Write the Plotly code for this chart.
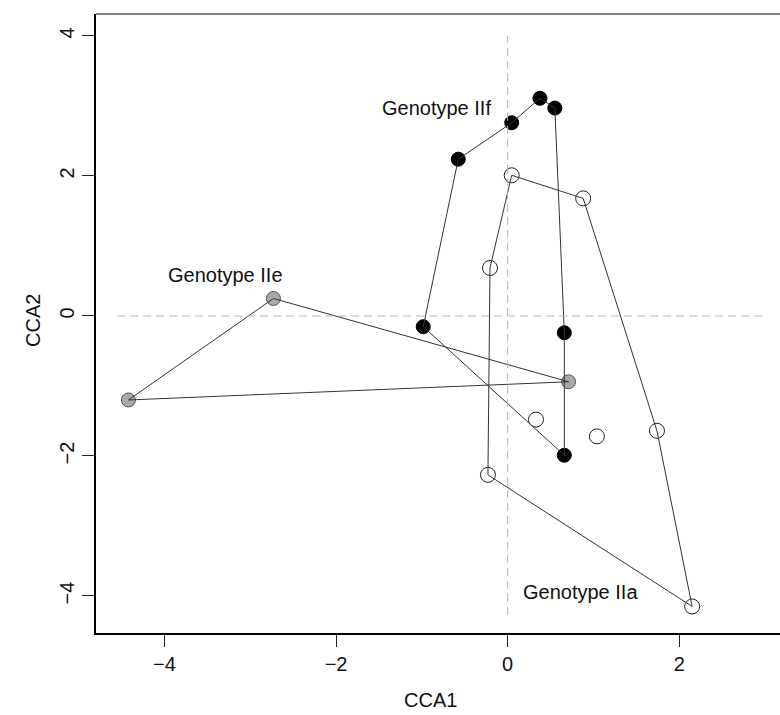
import plotly.graph_objects as go

# CCA site scores per genotype group
iif_x = [-0.984, -0.576, 0.047, 0.376, 0.55, 0.66, 0.66]
iif_y = [-0.153, 2.24, 2.76, 3.11, 2.97, -0.24, -1.99]
iif_hull = [0, 1, 2, 3, 4, 5, 6, 0]

iie_x = [-4.42, -2.73, 0.71]
iie_y = [-1.20, 0.25, -0.94]
iie_hull = [0, 1, 2, 0]

iia_x = [0.047, 0.88, 1.74, 2.15, -0.23, -0.206, 0.33, 1.04]
iia_y = [2.01, 1.68, -1.64, -4.15, -2.27, 0.686, -1.48, -1.72]
iia_hull = [0, 1, 2, 3, 4, 5, 0]

group_labels = ["Genotype IIf", "Genotype IIe", "Genotype IIa"]
label_x = [-0.83, -3.285, 0.849]
label_y = [2.97, 0.586, -3.95]

x_ticks = [-4, -2, 0, 2]
y_ticks = [-4, -2, 0, 2, 4]
x_title = "CCA1"
y_title = "CCA2"

FONT = "Liberation Sans, Arial, sans-serif"
LINE = "#333333"

fig = go.Figure()

# points
fig.add_trace(go.Scatter(x=iif_x, y=iif_y, mode="markers",
                         marker=dict(symbol="circle", size=14, color="black",
                                     line=dict(color="black", width=1))))
fig.add_trace(go.Scatter(x=iie_x, y=iie_y, mode="markers",
                         marker=dict(symbol="circle", size=14, color="#a8a8a8",
                                     line=dict(color="#555555", width=1))))
fig.add_trace(go.Scatter(x=iia_x, y=iia_y, mode="markers",
                         marker=dict(symbol="circle-open", size=15, color="#222222",
                                     line=dict(width=1))))

# convex hulls drawn over the points
for xs, ys, order in [(iif_x, iif_y, iif_hull), (iie_x, iie_y, iie_hull),
                      (iia_x, iia_y, iia_hull)]:
    fig.add_trace(go.Scatter(x=[xs[i] for i in order], y=[ys[i] for i in order],
                             mode="lines", line=dict(color=LINE, width=1)))

shapes = [
    # reference lines through the origin
    dict(type="line", xref="x", yref="y", x0=0, x1=0, y0=-4.27, y1=4.0,
         line=dict(color="#b4b4b4", width=1, dash="8px,5px")),
    dict(type="line", xref="x", yref="y", x0=-4.55, x1=3.0, y0=0, y1=0,
         line=dict(color="#b4b4b4", width=1, dash="8px,5px")),
    # top border of the plot box
    dict(type="line", xref="paper", yref="paper", x0=0, x1=1, y0=1, y1=1,
         line=dict(color="#555555", width=1.5)),
]

annotations = []
for t, lx, ly in zip(group_labels, label_x, label_y):
    annotations.append(dict(x=lx, y=ly, xref="x", yref="y", text=t, showarrow=False,
                            font=dict(family=FONT, size=20, color="#111111"),
                            xanchor="center", yanchor="middle"))

W, H = 780, 715
L, R, T, B = 96, 0, 14, 82
pw, ph = W - L - R, H - T - B
annotations.append(dict(x=(430 - L) / pw, y=-(700 - (H - B)) / ph, xref="paper", yref="paper",
                        text=x_title, showarrow=False, xanchor="center", yanchor="middle",
                        font=dict(family=FONT, size=20, color="#111111")))
annotations.append(dict(x=-(L - 33) / pw, y=(H - B - 321) / ph, xref="paper", yref="paper",
                        text=y_title, showarrow=False, textangle=-90,
                        xanchor="center", yanchor="middle",
                        font=dict(family=FONT, size=20, color="#111111")))

fig.update_layout(
    width=W, height=H,
    margin=dict(l=L, r=R, t=T, b=B, pad=0),
    paper_bgcolor="white", plot_bgcolor="white",
    showlegend=False,
    shapes=shapes,
    annotations=annotations,
    font=dict(family=FONT, size=20, color="#111111"),
    xaxis=dict(range=[-4.798, 3.174], tickvals=x_ticks, ticks="outside", ticklen=12,
               tickwidth=1, tickcolor="#222222", showline=True, linecolor="black",
               linewidth=1.5, showgrid=False, zeroline=False,
               tickfont=dict(family=FONT, size=20, color="#111111")),
    yaxis=dict(range=[-4.529, 4.314], tickvals=y_ticks, ticks="outside", ticklen=12,
               tickwidth=1, tickcolor="#222222", showline=True, linecolor="black",
               linewidth=1.5, showgrid=False, zeroline=False, tickangle=-90,
               tickfont=dict(family=FONT, size=20, color="#111111")),
)

fig.write_html("out.html")
